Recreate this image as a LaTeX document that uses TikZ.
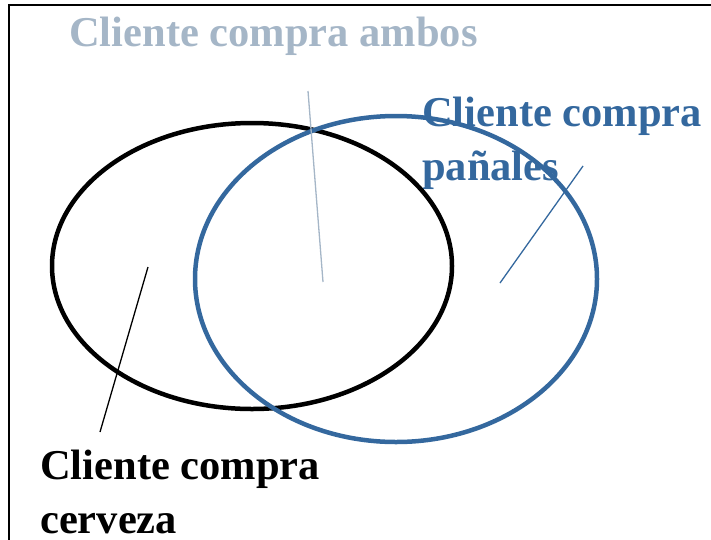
\documentclass[tikz,border=0pt]{standalone}
\usepackage{fontspec}
\setmainfont{Liberation Serif}
\usetikzlibrary{positioning}
\definecolor{ambosgris}{RGB}{165,182,199}
\definecolor{panazul}{RGB}{52,104,158}

\begin{document}
\begin{tikzpicture}[x=1pt,y=-1pt,
		etiqueta/.style={inner sep=0pt,anchor=base west,align=left,font=\fontsize{42.5}{54}\selectfont\bfseries},
		conjunto/.style={line width=4.5pt}]
		\useasboundingbox (0,0) rectangle (711,539);
		\draw[line width=1.5pt] (9,5) rectangle (730,560);
		% etiquetas
		\node[etiqueta,text=ambosgris] (ambos) at (69,46) {Cliente compra ambos};
		\node[etiqueta,text=panazul] (panales) at (422,180) {Cliente compra\\pañales};
		\node[etiqueta] (cerveza) at (40,533) {Cliente compra\\cerveza};
		% conjuntos
		\draw[conjunto] (252,266) ellipse [x radius=200, y radius=143];
		\draw[conjunto,panazul] (396,279) ellipse [x radius=201, y radius=163];
		% lineas
		\coordinate (a1) at (308,91);  \coordinate (a2) at (323,282);
		\coordinate (p1) at (583,166); \coordinate (p2) at (500,283);
		\coordinate (c1) at (148,267); \coordinate (c2) at (100,432);
		\draw[ambosgris,line width=1.3pt] (a1) -- (a2);
		\draw[panazul,line width=1.3pt] (p1) -- (p2);
		\draw[line width=1.3pt] (c1) -- (c2);
\end{tikzpicture}
\end{document}
